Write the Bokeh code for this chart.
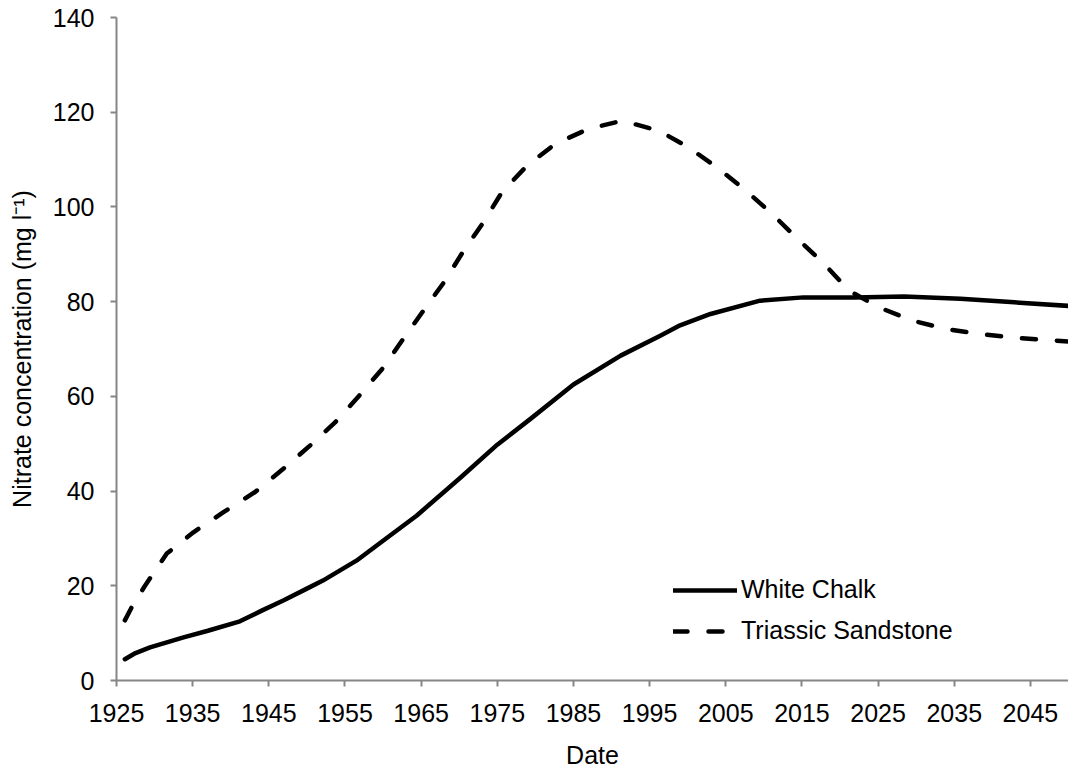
from bokeh.plotting import figure
from bokeh.models import Range1d, FixedTicker, Legend, LegendItem
from bokeh.embed import file_html
from bokeh.resources import INLINE

# ---- data ----
chalk_year = [1926.1, 1927.5, 1929.4, 1931.5, 1933.8, 1937.0, 1941.2, 1944.0, 1946.9, 1950.0,
              1952.1, 1956.5, 1960.0, 1964.4, 1970.0, 1975.0, 1979.4, 1985.0, 1991.2, 1996.4,
              1999.0, 2003.0, 2009.5, 2015.2, 2021.8, 2028.4, 2035.8, 2042.4, 2050.0]
chalk_no3 = [4.5, 5.8, 7.0, 8.0, 9.1, 10.5, 12.5, 14.7, 16.9, 19.4,
             21.1, 25.3, 29.5, 34.8, 42.6, 49.8, 55.3, 62.5, 68.6, 72.8,
             75.0, 77.4, 80.2, 80.9, 80.9, 81.1, 80.6, 79.9, 79.1]

sand_year = [1926.1, 1927.0, 1928.9, 1931.6, 1935.1, 1939.0, 1943.2, 1946.9, 1950.4, 1953.7,
             1956.9, 1960.1, 1962.5, 1965.3, 1968.0, 1970.6, 1973.2, 1975.6, 1978.9, 1982.6,
             1987.0, 1991.4, 1996.2, 2000.1, 2003.8, 2007.6, 2011.1, 2014.4, 2017.9, 2021.2,
             2025.1, 2029.5, 2034.0, 2038.7, 2043.5, 2048.1, 2050.0]
sand_no3 = [12.7, 15.5, 20.4, 26.8, 31.3, 35.5, 39.8, 44.7, 49.6, 54.5,
            60.2, 66.2, 71.8, 78.1, 84.1, 90.8, 96.8, 103.1, 108.7, 113.3,
            116.5, 118.2, 116.1, 112.6, 108.4, 103.5, 98.5, 93.3, 88.0, 82.3,
            78.8, 76.0, 74.2, 73.1, 72.3, 71.8, 71.6]

x_ticks = [1925, 1935, 1945, 1955, 1965, 1975, 1985, 1995, 2005, 2015, 2025, 2035, 2045]
y_ticks = [0, 20, 40, 60, 80, 100, 120, 140]
series_names = ["White Chalk", "Triassic Sandstone"]

FONT = "Liberation Sans"
FS = "25px"
AXIS_GREY = "#868686"

p = figure(width=1068, height=778, output_backend="svg", toolbar_location=None,
           x_range=Range1d(1925, 2050), y_range=Range1d(0, 140),
           min_border_left=116, min_border_right=0, min_border_top=17, min_border_bottom=98)
p.outline_line_color = None
p.xgrid.visible = False
p.ygrid.visible = False

r1 = p.line(chalk_year, chalk_no3, line_color="black", line_width=4.5, line_cap="round", line_join="round")
r2 = p.line(sand_year, sand_no3, line_color="black", line_width=4.5, line_dash="14 21",
            line_cap="round", line_join="round")

for ax in (p.xaxis[0], p.yaxis[0]):
    ax.axis_line_color = AXIS_GREY
    ax.axis_line_width = 2
    ax.major_tick_line_color = AXIS_GREY
    ax.major_tick_line_width = 2
    ax.major_tick_in = 0
    ax.major_tick_out = 6
    ax.minor_tick_line_color = None
    ax.major_label_text_font = FONT
    ax.major_label_text_font_size = FS
    ax.major_label_text_color = "black"
    ax.axis_label_text_font = FONT
    ax.axis_label_text_font_size = FS
    ax.axis_label_text_font_style = "normal"
    ax.axis_label_text_color = "black"

p.xaxis.ticker = FixedTicker(ticks=x_ticks)
p.yaxis.ticker = FixedTicker(ticks=y_ticks)
p.xaxis.axis_label = "Date"
p.yaxis.axis_label = "Nitrate concentration (mg l\u207b\u00b9)"
p.xaxis.major_label_standoff = 17
p.xaxis.axis_label_standoff = 16
p.yaxis.major_label_standoff = 16
p.yaxis.axis_label_standoff = 14

legend = Legend(items=[LegendItem(label=series_names[0], renderers=[r1]),
                       LegendItem(label=series_names[1], renderers=[r2])],
                location=(557, 35), orientation="vertical",
                glyph_width=64, glyph_height=20, label_height=20, label_standoff=4,
                spacing=12, padding=0, margin=0,
                border_line_color=None, background_fill_alpha=0,
                label_text_font=FONT, label_text_font_size=FS, label_text_color="black")
p.add_layout(legend)

open("out.html", "w").write(file_html(p, INLINE))
